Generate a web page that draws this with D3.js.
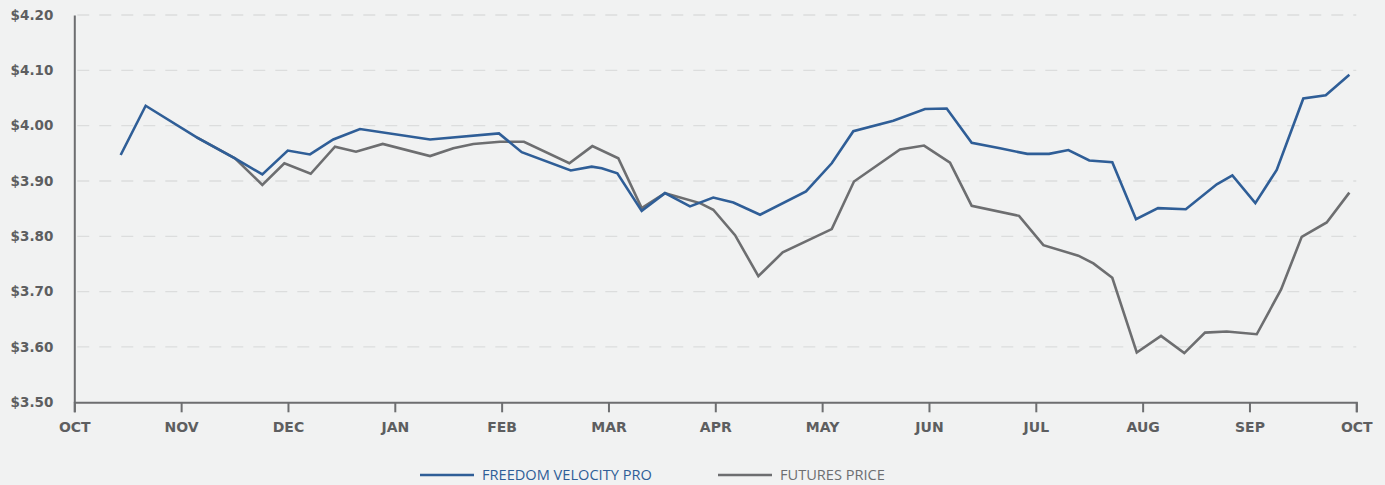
<!DOCTYPE html>
<html>
<head>
<meta charset="utf-8">
<script src="https://cdn.jsdelivr.net/npm/d3@7"></script>
<style>
  html, body { margin: 0; padding: 0; background: #f1f2f2; }
  svg { display: block; }
</style>
</head>
<body>
<svg id="chart" width="1385" height="485"></svg>
<script>
// Month tick labels (evenly spaced, month index 0..12)
const monthLabels = ["OCT","NOV","DEC","JAN","FEB","MAR","APR","MAY","JUN","JUL","AUG","SEP","OCT"];
const yTicks = [3.50, 3.60, 3.70, 3.80, 3.90, 4.00, 4.10, 4.20];

// Freedom Velocity Pro: position in months since Oct 1, price
const fvpMonths = [0.434,0.668,1.146,1.504,1.760,1.998,2.206,2.424,2.674,3.330,3.975,4.188,4.647,4.843,4.937,5.083,5.311,5.529,5.763,5.981,6.169,6.419,6.849,7.090,7.292,7.666,7.963,8.166,8.400,8.665,8.921,9.124,9.305,9.501,9.716,9.938,10.144,10.404,10.694,10.840,11.055,11.255,11.504,11.714,11.935];
const fvpValues = [3.947,4.036,3.979,3.941,3.912,3.955,3.948,3.975,3.994,3.975,3.986,3.952,3.919,3.926,3.923,3.914,3.846,3.878,3.854,3.870,3.861,3.839,3.881,3.932,3.990,4.009,4.030,4.031,3.969,3.959,3.949,3.949,3.956,3.937,3.934,3.831,3.851,3.849,3.894,3.910,3.860,3.920,4.049,4.055,4.092];

// Futures price
const futMonths = [1.146,1.504,1.760,1.966,2.213,2.440,2.637,2.887,3.330,3.548,3.735,3.985,4.209,4.634,4.849,5.092,5.311,5.529,5.857,5.981,6.185,6.403,6.631,7.090,7.298,7.729,7.954,8.197,8.400,8.843,9.071,9.398,9.539,9.716,9.945,10.172,10.390,10.584,10.787,11.068,11.296,11.489,11.723,11.935];
const futValues = [3.979,3.941,3.893,3.932,3.913,3.962,3.953,3.967,3.945,3.959,3.967,3.971,3.971,3.932,3.963,3.941,3.851,3.878,3.860,3.848,3.802,3.728,3.771,3.813,3.899,3.957,3.964,3.933,3.855,3.837,3.784,3.765,3.751,3.725,3.590,3.620,3.589,3.626,3.628,3.623,3.704,3.799,3.825,3.879];

const seriesNames = ["FREEDOM VELOCITY PRO", "FUTURES PRICE"];
const colors = ["#2f5e97", "#6d6e70"];

const svg = d3.select("#chart");
const x = d3.scaleLinear().domain([0, 12]).range([74.3, 1356.3]);
const y = d3.scaleLinear().domain([3.5, 4.2]).range([402.3, 15]);

svg.append("rect").attr("width", 1385).attr("height", 485).attr("fill", "#f1f2f2");

// gridlines
svg.append("g")
  .selectAll("line")
  .data(yTicks.filter(d => d > 3.5))
  .join("line")
  .attr("x1", x(0) + 3).attr("x2", x(12))
  .attr("y1", d => y(d)).attr("y2", d => y(d))
  .attr("stroke", "#dcdddd").attr("stroke-width", 1.3)
  .attr("stroke-dasharray", "12,10");

const axisFont = "'DejaVu Sans', sans-serif";
const legendFont = "'Open Sans', sans-serif";

// Y axis
const yAxis = d3.axisLeft(y).tickValues(yTicks).tickSize(0).tickPadding(21)
  .tickFormat(d => "$" + d.toFixed(2));
const gy = svg.append("g").attr("transform", `translate(${x(0)},0)`).call(yAxis);
gy.select(".domain").attr("stroke", "#6d6e70").attr("stroke-width", 2);
gy.selectAll("text").attr("fill", "#5d5e60").attr("font-family", axisFont)
  .attr("font-weight", 700).attr("font-size", 13.5);

// X axis
const xAxis = d3.axisBottom(x).tickValues(d3.range(0, 13)).tickSize(10).tickPadding(10)
  .tickFormat((d, i) => monthLabels[i]);
const gx = svg.append("g").attr("transform", `translate(0,${y(3.5)})`).call(xAxis);
gx.select(".domain").attr("stroke", "#6d6e70").attr("stroke-width", 2);
gx.selectAll(".tick line").attr("stroke", "#6d6e70").attr("stroke-width", 2);
gx.selectAll("text").attr("fill", "#5d5e60").attr("font-family", axisFont)
  .attr("font-weight", 700).attr("font-size", 14);

// lines
const line = d3.line().x(d => x(d[0])).y(d => y(d[1]));
const futData = d3.zip(futMonths, futValues);
const fvpData = d3.zip(fvpMonths, fvpValues);

svg.append("path").datum(futData).attr("d", line)
  .attr("fill", "none").attr("stroke", colors[1]).attr("stroke-width", 2.6)
  .attr("stroke-linejoin", "miter");
svg.append("path").datum(fvpData).attr("d", line)
  .attr("fill", "none").attr("stroke", colors[0]).attr("stroke-width", 2.6)
  .attr("stroke-linejoin", "miter");

// legend
const legendItems = [
  {name: seriesNames[0], color: colors[0], x0: 420},
  {name: seriesNames[1], color: colors[1], x0: 718}
];
const lg = svg.append("g");
legendItems.forEach(it => {
  lg.append("line").attr("x1", it.x0).attr("x2", it.x0 + 54)
    .attr("y1", 475).attr("y2", 475)
    .attr("stroke", it.color).attr("stroke-width", 2.6);
  lg.append("text").attr("x", it.x0 + 62).attr("y", 475)
    .attr("dy", "0.36em")
    .attr("fill", it.color).attr("font-family", legendFont)
    .attr("font-size", 14.6).text(it.name);
});
</script>
</body>
</html>
